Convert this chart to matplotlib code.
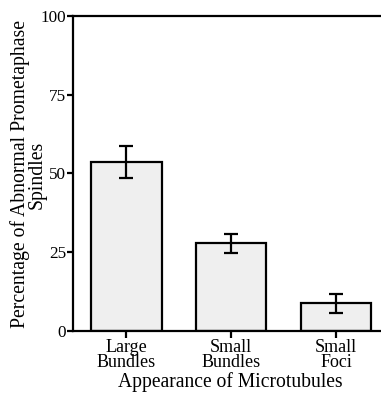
import matplotlib
matplotlib.use("Agg")
import matplotlib.pyplot as plt

categories = ["Large\nBundles", "Small\nBundles", "Small\nFoci"]
values = [53.6, 27.8, 8.7]
errors = [5.0, 3.0, 3.0]
yticks = [0, 25, 50, 75, 100]

plt.rcParams['font.family'] = ['Liberation Serif', 'DejaVu Serif']

W, H = 381, 393
fig = plt.figure(figsize=(W/100, H/100), dpi=100)
ax = fig.add_axes([73/W, 1-330.7/H, (W-73)/W, (330.7-16)/H])

x = list(range(len(categories)))
ax.bar(x, values, width=0.67, color="#efefef", edgecolor="black", linewidth=1.6, zorder=2)
ax.errorbar(x, values, yerr=errors, fmt="none", ecolor="black", elinewidth=1.6,
            capsize=5, capthick=1.6, zorder=3)

ax.set_xlim(-0.51, 2.43)
ax.set_ylim(0, 100)
ax.set_yticks(yticks)
ax.set_xticks(x)
ax.set_xticklabels(categories, fontsize=13, linespacing=0.85)
ax.tick_params(axis='y', labelsize=12.3, length=4.5, width=1.6, pad=0.5)
ax.tick_params(axis='x', length=5, width=1.6, pad=1)
for s in ["left", "top", "bottom"]:
    ax.spines[s].set_linewidth(1.6)
ax.spines["right"].set_visible(False)

fig.text(28/W, 1-174.5/H, "Percentage of Abnormal Prometaphase\nSpindles", fontsize=14.2,
         rotation=90, ha="center", va="center", multialignment="center", linespacing=0.85)
fig.text(230/W, 1-382/H, "Appearance of Microtubules", fontsize=14.1,
         ha="center", va="center")

fig.savefig("out.png", dpi=100)
